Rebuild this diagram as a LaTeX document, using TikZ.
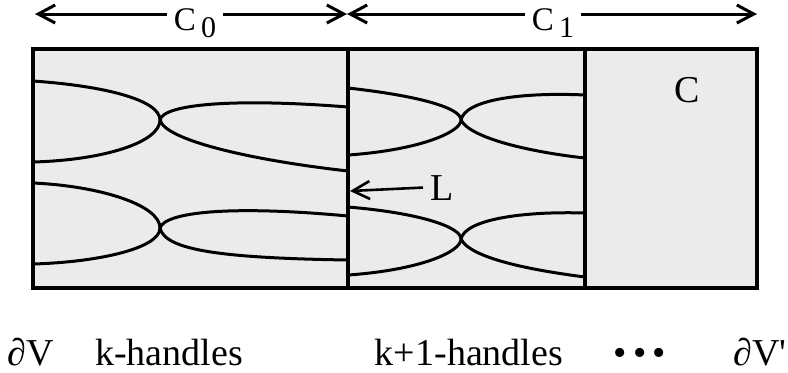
\documentclass[tikz,border=0pt]{standalone}
\usepackage{fontspec}
\setmainfont{Liberation Serif}
\usetikzlibrary{arrows.meta, positioning}
\newcommand{\lowidx}[1]{\hspace{2.5pt}\raisebox{-3.5pt}{\fontsize{15}{16}\selectfont #1}}

\begin{document}
\begin{tikzpicture}[
        x=0.5pt, y=-0.5pt,
        lbl/.style={inner sep=0pt, font=\fontsize{19}{22}\selectfont},
        toplbl/.style={inner xsep=3.5pt, inner ysep=0pt, anchor=base, font=\fontsize{16.5}{18}\selectfont},
        frame/.style={draw, line width=1.8pt},
        wall/.style={line width=1.6pt},
        sheet/.style={line width=1.5pt},
        dim/.style={line width=1.5pt, -{Straight Barb[length=8.5pt, width=9pt]}}
    ]
        \useasboundingbox (0,0) rectangle (788,372);

        % Cobordism box
        \coordinate (nw) at (33,49);
        \coordinate (se) at (757,288);
        \coordinate (m0) at (348,49);
        \coordinate (m1) at (585,49);
        \fill[black!8] (nw) rectangle (se);

        % Crossings of the handles
        \coordinate (x0a) at (160,120);
        \coordinate (x0b) at (160,228);
        \coordinate (x1a) at (461,120);
        \coordinate (x1b) at (461,239);

        % k-handles
        \draw[sheet] (33,81) .. controls (105,86) and (160,100) .. (x0a);
        \draw[sheet] (33,162) .. controls (105,160) and (160,142) .. (x0a);
        \draw[sheet] (x0a) .. controls (163,104) and (235,98) .. (348,107);
        \draw[sheet] (x0a) .. controls (165,140) and (250,160) .. (348,171);
        \draw[sheet] (33,183) .. controls (100,186) and (160,205) .. (x0b);
        \draw[sheet] (33,264) .. controls (100,262) and (160,248) .. (x0b);
        \draw[sheet] (x0b) .. controls (165,212) and (230,205) .. (348,216);
        \draw[sheet] (x0b) .. controls (165,250) and (220,258) .. (348,260);

        % k+1-handles
        \draw[sheet] (348,88) .. controls (420,96) and (461,108) .. (x1a);
        \draw[sheet] (348,155) .. controls (420,150) and (461,132) .. (x1a);
        \draw[sheet] (x1a) .. controls (465,100) and (520,92) .. (585,95);
        \draw[sheet] (x1a) .. controls (470,138) and (530,152) .. (585,158);
        \draw[sheet] (348,207) .. controls (420,213) and (461,227) .. (x1b);
        \draw[sheet] (348,275) .. controls (420,270) and (461,252) .. (x1b);
        \draw[sheet] (x1b) .. controls (465,220) and (520,211) .. (585,213);
        \draw[sheet] (x1b) .. controls (470,258) and (530,270) .. (585,277);

        % Walls and frame
        \draw[wall] (m0) -- (m0 |- se);
        \draw[wall] (m1) -- (m1 |- se);
        \draw[frame] (nw) rectangle (se);

        % Top arrows
        \coordinate (a0) at (35,14);
        \coordinate (a1) at (347,14);
        \coordinate (a2) at (757,14);
        \node[toplbl] (c0) at (195,30) {C\lowidx{0}};
        \node[toplbl] (c1) at (553,30) {C\lowidx{1}};
        \draw[dim] (c0.west |- a0) -- (a0);
        \draw[dim] (c0.east |- a0) -- (a1);
        \draw[dim] (c1.west |- a0) -- (a1);
        \draw[dim] (c1.east |- a0) -- (a2);

        % Labels inside
        \node[lbl, anchor=base] (c) at (687,102) {C};
        \node[lbl, anchor=base west, inner xsep=3.5pt] (l) at (423,200) {L};
        \coordinate (lw) at (350,191);
        \draw[dim, line width=1.3pt] (l.west) -- (lw);

        % Bottom labels
        \node[lbl, anchor=base] (dv) at (31,365) {∂V};
        \node[lbl, anchor=base] (kh) at (169,365) {k-handles};
        \node[lbl, anchor=base] (k1h) at (469,365) {k+1-handles};
        \node[lbl, anchor=base] (dots) at (640,365) {•\,•\,•};
        \node[lbl, anchor=base] (dvp) at (760,365) {∂V\textquotesingle};
    \end{tikzpicture}
\end{document}
